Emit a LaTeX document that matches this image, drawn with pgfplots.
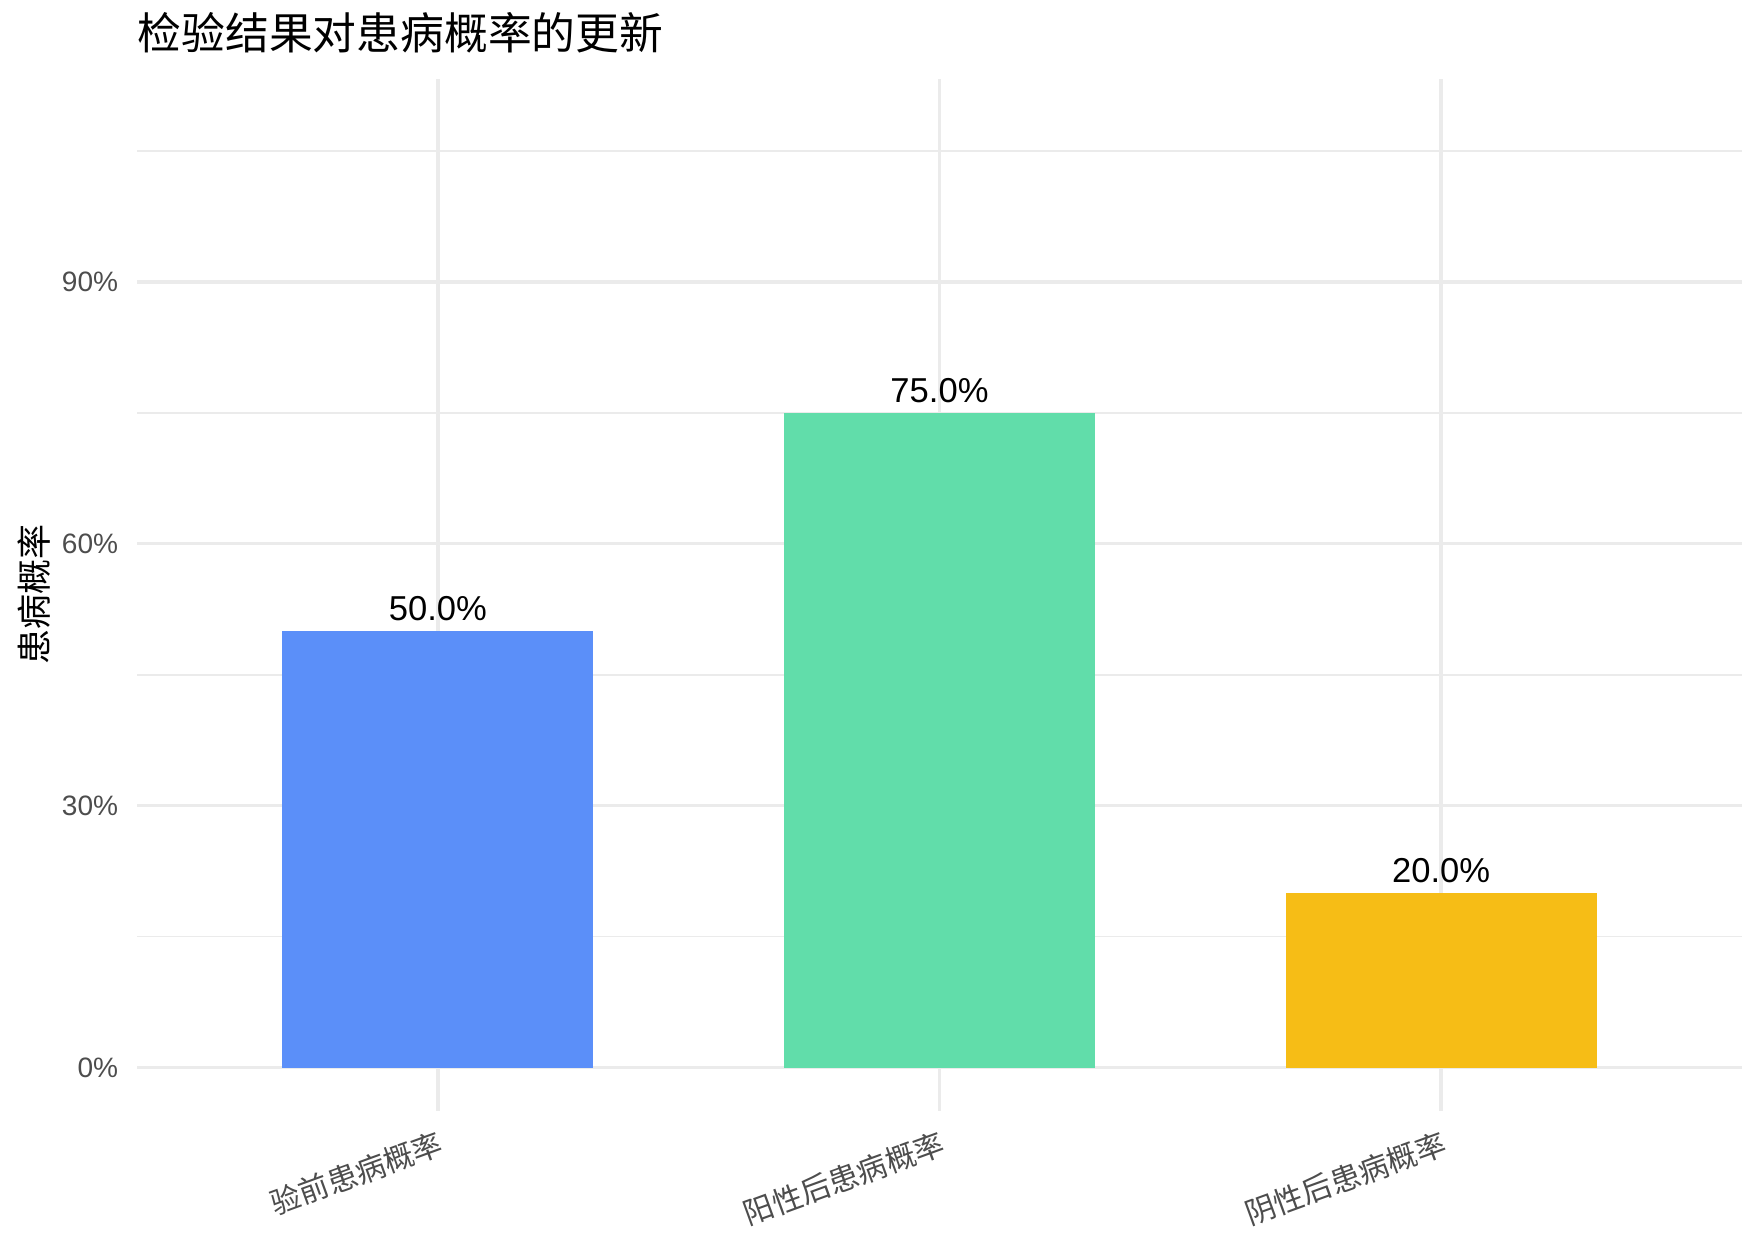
\documentclass[border=0pt]{standalone}
\usepackage{pgfplots}
\pgfplotsset{compat=1.18}
\usepackage{fontspec}
\setmainfont{Liberation Sans}
\newfontfamily\cjk{Noto Sans CJK SC}

\definecolor{gridc}{HTML}{EBEBEB}
\definecolor{tickc}{HTML}{4D4D4D}
\definecolor{cblue}{HTML}{5B8FF9}
\definecolor{cgreen}{HTML}{61DDAA}
\definecolor{cyellow}{HTML}{F6BD16}

\begin{document}
\begin{tikzpicture}
\useasboundingbox (-30.5pt,-27pt) rectangle (361.5pt,247.5pt);
\begin{axis}[
    scale only axis,
    width=357.5pt, height=230pt,
    xmin=0.4, xmax=3.6,
    ymin=-5.0, ymax=113.3,
    axis line style={draw=none},
    major tick length=0pt, minor tick length=0pt,
    ybar, bar width=0.62, bar shift=0pt,
    /pgf/number format/assume math mode=true,
    xtick={1,2,3},
    xticklabels={验前患病概率,阳性后患病概率,阴性后患病概率},
    xticklabel style={font=\cjk\fontsize{6.7}{8}\selectfont, text=tickc,
        rotate=20, anchor=north east, inner sep=0pt, yshift=-3.5pt, xshift=-1.5pt},
    ytick={0,30,60,90},
    yticklabels={0\%,30\%,60\%,90\%},
    minor ytick={15,45,75,105},
    yticklabel style={font=\fontsize{6.25}{7}\selectfont, text=tickc,
        anchor=east, inner sep=0pt, xshift=-4pt},
    xmajorgrids, ymajorgrids, yminorgrids,
    major grid style={gridc, line width=0.75pt},
    minor grid style={gridc, line width=0.37pt},
    ylabel={\cjk 患病概率},
    ylabel style={font=\fontsize{7.8}{9}\selectfont, text=black,
        at={(axis description cs:-0.064,0.5)}, anchor=center},
    nodes near coords={\pgfmathprintnumber[fixed,fixed zerofill,precision=1]{\pgfplotspointmeta}\%},
    nodes near coords style={font=\fontsize{7.7}{9}\selectfont, text=black,
        anchor=south, inner sep=0pt, yshift=2pt},
]
\addplot[fill=cblue, draw=none] coordinates {(1,50)};
\addplot[fill=cgreen, draw=none] coordinates {(2,75)};
\addplot[fill=cyellow, draw=none] coordinates {(3,20)};
\end{axis}
\node[anchor=base west, inner sep=0pt, font=\cjk\fontsize{9.75}{11}\selectfont]
    at ([yshift=6.5pt]current axis.north west) {检验结果对患病概率的更新};
\end{tikzpicture}
\end{document}
